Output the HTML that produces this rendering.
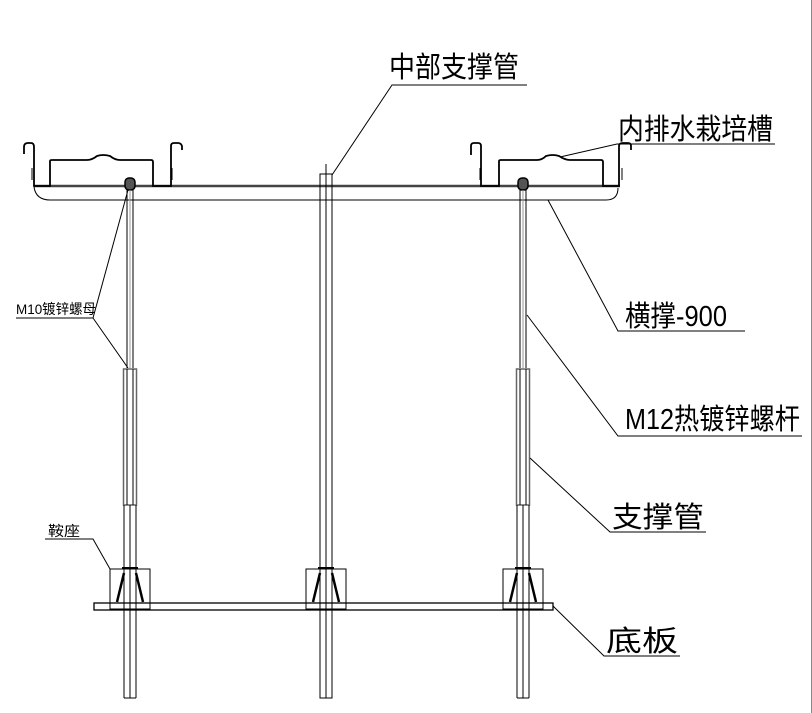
<!DOCTYPE html>
<html><head><meta charset="utf-8"><style>
html,body{margin:0;padding:0;background:#fff}
svg{display:block}
text{font-family:"Liberation Sans","Noto Sans CJK SC",sans-serif;fill:#000}
</style></head><body>
<svg width="812" height="713" viewBox="0 0 812 713" xmlns="http://www.w3.org/2000/svg">
<g fill="none" stroke="#000" stroke-width="1">
<line x1="811.5" y1="0" x2="811.5" y2="713" stroke="#888"/>
<path d="M34 186 H620" stroke-width="2.5" stroke="#444"/>
<path d="M34 187 Q36 200 50 200 H606 Q618 200 618 188"/>
<path d="M24 154 V147 Q24 143 28 143 H31 Q34 143 34 147 V186 H50 V161 Q50 160 52 160 H87 Q92 160 97 156 Q103 154 110 156 Q115 160 120 160 H151 Q153 160 153 162 V186 H171 V146 Q171 143 174 143 H178 Q181 143 182 146 V150" stroke-width="1.8"/>
<line x1="32" y1="168" x2="32" y2="180"/><line x1="172" y1="168" x2="172" y2="180"/>
<path d="M471 155 V146 Q471 143 474 143 H478 Q481 143 481 146 V186 H499 V161 Q499 160 501 160 H537 Q542 160 546 156 Q553 154 559 156 Q565 160 570 160 H601 Q603 160 603 162 V186 H619 V146 Q619 143 623 143 H628 Q631 143 631 146 V150" stroke-width="1.8"/>
<line x1="480" y1="168" x2="480" y2="180"/><line x1="622" y1="168" x2="622" y2="180"/>
<!-- left rod/pipe -->
<rect x="125" y="178" width="10" height="12" rx="4" stroke-width="1.5" fill="#555"/>
<line x1="127" y1="190" x2="127" y2="368"/><line x1="133" y1="190" x2="133" y2="368"/>
<line x1="130" y1="190" x2="130" y2="368" stroke="#999"/>
<rect x="123.5" y="369" width="13" height="136" stroke="#666" stroke-width="1.5"/>
<line x1="127" y1="369" x2="127" y2="505"/><line x1="133" y1="369" x2="133" y2="505"/>
<line x1="124" y1="505" x2="124" y2="698"/><line x1="136" y1="505" x2="136" y2="698"/>
<line x1="130" y1="505" x2="130" y2="698"/><line x1="124" y1="698" x2="136" y2="698"/>
<!-- middle pipe -->
<line x1="326" y1="164" x2="326" y2="698"/>
<rect x="320" y="174" width="12" height="524"/>
<!-- right rod/pipe -->
<rect x="518" y="178" width="10" height="12" rx="4" stroke-width="1.5" fill="#555"/>
<line x1="520" y1="190" x2="520" y2="368"/><line x1="526" y1="190" x2="526" y2="368"/>
<line x1="523" y1="190" x2="523" y2="368" stroke="#999"/>
<rect x="516.5" y="369" width="13" height="136" stroke="#666" stroke-width="1.5"/>
<line x1="520" y1="369" x2="520" y2="505"/><line x1="526" y1="369" x2="526" y2="505"/>
<line x1="517" y1="505" x2="517" y2="698"/><line x1="529" y1="505" x2="529" y2="698"/>
<line x1="523" y1="505" x2="523" y2="698"/><line x1="517" y1="698" x2="529" y2="698"/>
<rect x="94" y="603" width="459" height="7" stroke-width="1.3"/>
<g id="s">
<rect x="110" y="569" width="40" height="40"/>
<line x1="122" y1="568" x2="138" y2="568" stroke-width="2"/>
<line x1="124" y1="573" x2="117" y2="602" stroke-width="2.5"/>
<line x1="136" y1="573" x2="143" y2="602" stroke-width="2.5"/>
</g>
<use href="#s" x="196"/>
<use href="#s" x="393"/>
<path d="M332 175 L392 85 H527"/>
<path d="M560 157 L617 144 H775"/>
<path d="M548 200 L618 331 H745"/>
<path d="M527 315 L618 436 H802"/>
<path d="M530 458 L610 532 H706"/>
<path d="M553 606 L604 656 H680"/>
<path d="M128 190 L93 318 H16 M93 318 L128 368"/>
<path d="M110 569 L93 539 H45"/>
</g>
<g font-size="29">
<text x="389" y="77" textLength="130" lengthAdjust="spacingAndGlyphs">中部支撑管</text>
<text x="618" y="139" textLength="155" lengthAdjust="spacingAndGlyphs">内排水栽培槽</text>
<text x="625" y="326" textLength="102" lengthAdjust="spacingAndGlyphs">横撑-900</text>
<text x="625" y="429" textLength="175" lengthAdjust="spacingAndGlyphs">M12热镀锌螺杆</text>
<text x="612" y="527" textLength="92" lengthAdjust="spacingAndGlyphs">支撑管</text>
<text x="606" y="651" textLength="72" lengthAdjust="spacingAndGlyphs">底板</text>
</g>
<g font-size="14">
<text x="16" y="314" textLength="80" lengthAdjust="spacingAndGlyphs">M10镀锌螺母</text>
<text x="48" y="536" textLength="32" lengthAdjust="spacingAndGlyphs">鞍座</text>
</g>
</svg>
</body></html>
